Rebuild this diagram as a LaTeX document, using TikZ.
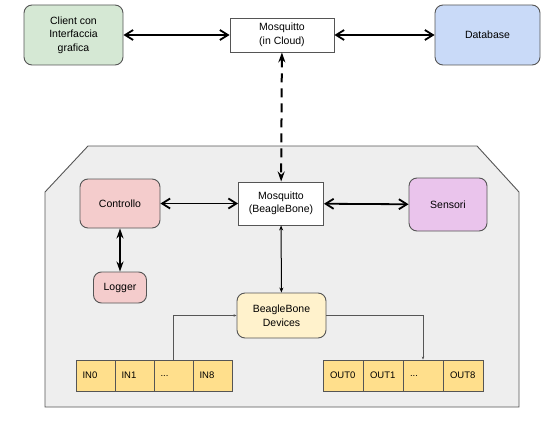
\documentclass[tikz,border=0pt]{standalone}
\usepackage{fontspec}
\setmainfont{Liberation Sans}
\usetikzlibrary{arrows.meta}

\definecolor{clientgreen}{HTML}{D5E8D4}
\definecolor{dbblue}{HTML}{C9DAF8}
\definecolor{ctrlred}{HTML}{F4CCCC}
\definecolor{sensviolet}{HTML}{EAC4EC}
\definecolor{devyellow}{HTML}{FFF2CC}
\definecolor{pinyellow}{HTML}{FFDF8C}
\definecolor{zonegray}{HTML}{EEEEEE}
\definecolor{edgegray}{HTML}{555555}
\def\pindots{...}

\begin{document}
\begin{tikzpicture}[x=1pt, y=-1pt,
    every node/.style={font=\fontsize{10.5}{13.5}\selectfont, align=center, inner sep=0pt},
    rbox/.style={draw=edgegray, line width=0.9pt, rounded corners=8pt},
    sbox/.style={draw=edgegray, line width=0.9pt, fill=white},
    pin/.style={draw=edgegray, line width=0.9pt, fill=pinyellow, minimum width=39pt, minimum height=31pt,
        text width=26pt, align=left, font=\fontsize{9.5}{11}\selectfont},
    link/.style={line width=1.8pt, {Straight Barb[length=8pt,width=10pt]}-{Straight Barb[length=8pt,width=10pt]}},
    bold link/.style={line width=1.8pt, {Stealth[length=10pt,width=7pt]}-{Stealth[length=10pt,width=7pt]}},
    thin link/.style={line width=1pt, {Stealth[length=5pt,width=4pt]}-{Stealth[length=5pt,width=4pt]}},
    wire/.style={line width=0.8pt, draw=edgegray, -{Stealth[length=3pt,width=2.5pt]}}]
      \useasboundingbox (0,0) rectangle (553,425);

      % BeagleBone area
      \draw[draw=edgegray, line width=0.9pt, fill=zonegray]
        (88,146) -- (477,146) -- (519,192) -- (519,407) -- (45,407) -- (45,192) -- cycle;

      % top row
      \node[rbox, fill=clientgreen, minimum width=99pt, minimum height=60pt] (client) at (73.5,35) {Client con\\Interfaccia\\grafica};
      \node[sbox, minimum width=104pt, minimum height=34pt] (cloud) at (282,35) {Mosquitto\\(in Cloud)};
      \node[rbox, fill=dbblue, minimum width=105pt, minimum height=60pt] (db) at (487.5,35) {Database};

      % inside the board
      \node[sbox, minimum width=85pt, minimum height=43pt] (broker) at (281,203.5) {Mosquitto\\(BeagleBone)};
      \node[rbox, fill=ctrlred, minimum width=80pt, minimum height=49pt] (ctrl) at (120,203.5) {Controllo};
      \node[rbox, fill=sensviolet, minimum width=78pt, minimum height=53pt] (sens) at (448,204.5) {Sensori};
      \node[rbox, fill=ctrlred, minimum width=53pt, minimum height=31pt] (logger) at (120,287.5) {Logger};
      \node[rbox, fill=devyellow, minimum width=89pt, minimum height=45pt] (dev) at (281.5,315.5) {BeagleBone\\Devices};

      % pins
      \foreach \lbl/\nm [count=\i] in {IN0/in0, IN1/in1, \pindots/indots, IN8/in8}
        \node[pin] (\nm) at (76+39*\i-19.5,375.5) {\lbl};
      \foreach \lbl/\nm [count=\i] in {OUT0/out0, OUT1/out1, \pindots/outdots, OUT8/out8}
        \node[pin, minimum width=40pt] (\nm) at (323+40*\i-20,375.5) {\lbl};

      % connections
      \draw[link] (client) -- (cloud);
      \draw[link] (cloud) -- (db);
      \draw[bold link, line width=2pt, dash pattern=on 9pt off 6pt] (cloud) -- (broker);
      \draw[link] (ctrl) -- (broker);
      \draw[link] (broker) -- (sens);
      \draw[bold link] (ctrl) -- (logger);
      \draw[thin link] (broker) -- (dev);
      \draw[wire] (indots.north) |- (dev.west);
      \draw[wire] (dev.east) -| (outdots.north);
    \end{tikzpicture}
\end{document}
